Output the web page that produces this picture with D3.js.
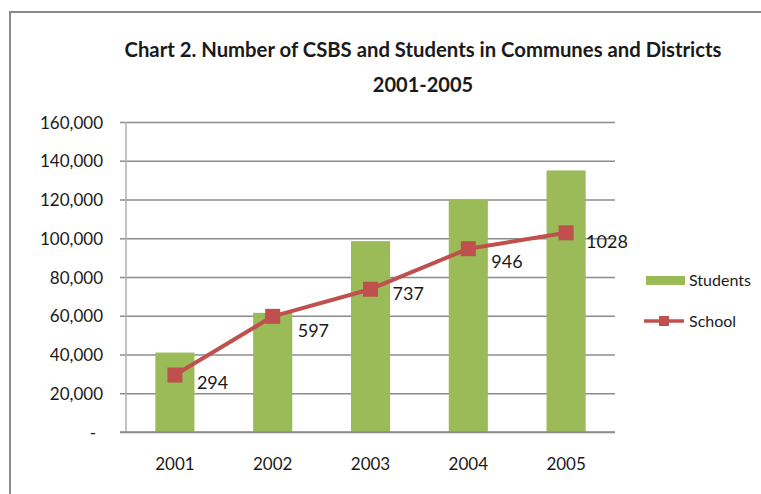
<!DOCTYPE html>
<html>
<head>
<meta charset="utf-8">
<script src="https://cdn.jsdelivr.net/npm/d3@7"></script>
<style>
  html, body { margin: 0; padding: 0; background: #fff; }
  svg { display: block; }
  text { font-family: Lato, "Open Sans", sans-serif; fill: #1a1a1a; }
</style>
</head>
<body>
<svg id="chart" width="761" height="494"></svg>
<script>
// ---- data ----
const years = ["2001", "2002", "2003", "2004", "2005"];
const students = [41000, 61500, 98500, 120000, 135000];
const schools = [294, 597, 737, 946, 1028];
const yTicks = [0, 20000, 40000, 60000, 80000, 100000, 120000, 140000, 160000];
const titleLines = ["Chart 2. Number of CSBS and Students in Communes and Districts", "2001-2005"];
const seriesNames = ["Students", "School"];

const svg = d3.select("#chart");
const W = 761, H = 494;
const margin = { left: 126, right: 146, top: 122, bottom: 62 };
const plotW = W - margin.left - margin.right;
const plotH = H - margin.top - margin.bottom;

const barColor = "#9BBB59";
const lineColor = "#C0504D";

// outer frame
svg.append("rect")
  .attr("x", 10).attr("y", 12)
  .attr("width", 800).attr("height", 600)
  .attr("fill", "none").attr("stroke", "#8a8a8a").attr("stroke-width", 2);

const g = svg.append("g").attr("transform", `translate(${margin.left},${margin.top})`);

const x = d3.scaleBand().domain(years).range([0, plotW]).paddingInner(0.6).paddingOuter(0.3);
const y = d3.scaleLinear().domain([0, 160000]).range([plotH, 0]);
const y2 = d3.scaleLinear().domain([0, 1600]).range([plotH, 0]);

// gridlines / y axis
const yAxis = d3.axisLeft(y).tickValues(yTicks).tickSize(-plotW).tickPadding(17)
  .tickFormat(d => d === 0 ? "-" : d3.format(",")(d));
const ya = g.append("g").call(yAxis);
ya.select(".domain").remove();
ya.selectAll(".tick line")
  .attr("x1", -6).attr("x2", plotW)
  .attr("stroke", "#8c8c8c").attr("stroke-width", 1.3);
ya.selectAll(".tick text")
  .style("font-size", "17px").attr("fill", "#1a1a1a")
  .attr("dy", "0.36em")
  .attr("x", d => d === 0 ? -30 : -23);

// y axis line
g.append("line").attr("x1", 0).attr("x2", 0).attr("y1", 0).attr("y2", plotH)
  .attr("stroke", "#b0b0b0").attr("stroke-width", 1.5);

// bars
g.selectAll("rect.bar").data(years).enter().append("rect")
  .attr("class", "bar")
  .attr("x", d => x(d))
  .attr("width", x.bandwidth())
  .attr("y", (d, i) => y(students[i]))
  .attr("height", (d, i) => plotH - y(students[i]))
  .attr("fill", barColor);

// x axis
const xa = g.append("g").attr("transform", `translate(0,${plotH})`)
  .call(d3.axisBottom(x).tickSize(0).tickPadding(26));
xa.select(".domain").attr("stroke", "#8c8c8c").attr("stroke-width", 1.5)
  .attr("d", `M-6,0H${plotW}`);
xa.selectAll(".tick text").style("font-size", "17px").attr("fill", "#1a1a1a");

// line
const cx = d => x(d) + x.bandwidth() / 2;
const line = d3.line().x((d, i) => cx(years[i])).y(d => y2(d));
g.append("path").datum(schools)
  .attr("d", line)
  .attr("fill", "none").attr("stroke", lineColor).attr("stroke-width", 4)
  .attr("stroke-linejoin", "round");

const ms = 15;
g.selectAll("rect.marker").data(schools).enter().append("rect")
  .attr("class", "marker")
  .attr("x", (d, i) => cx(years[i]) - ms / 2)
  .attr("y", d => y2(d) - ms / 2)
  .attr("width", ms).attr("height", ms)
  .attr("fill", lineColor);

// data labels (nudged as in the original layout)
const nudgeX = [22, 25, 22, 23, 20];
const nudgeY = [14, 21, 11, 19, 15];
g.selectAll("text.lbl").data(schools).enter().append("text")
  .attr("class", "lbl")
  .attr("x", (d, i) => cx(years[i]) + nudgeX[i])
  .attr("y", (d, i) => y2(d) + nudgeY[i])
  .style("font-size", "18px")
  .text(d => d);

// title
const title = svg.append("g");
title.append("text")
  .attr("x", 423).attr("y", 57)
  .attr("text-anchor", "middle")
  .style("font-size", "20px").style("font-weight", "bold")
  .attr("textLength", 597).attr("lengthAdjust", "spacingAndGlyphs")
  .text(titleLines[0]);
title.append("text")
  .attr("x", 423).attr("y", 92)
  .attr("text-anchor", "middle")
  .style("font-size", "20px").style("font-weight", "bold")
  .text(titleLines[1]);

// legend
const lg = svg.append("g");
lg.append("rect").attr("x", 646).attr("y", 276).attr("width", 39).attr("height", 9).attr("fill", barColor);
lg.append("text").attr("x", 689).attr("y", 286).style("font-size", "16px").text(seriesNames[0]);
lg.append("line").attr("x1", 644).attr("x2", 684).attr("y1", 321).attr("y2", 321)
  .attr("stroke", lineColor).attr("stroke-width", 3.5);
lg.append("rect").attr("x", 659).attr("y", 316).attr("width", 10).attr("height", 10).attr("fill", lineColor);
lg.append("text").attr("x", 689).attr("y", 327).style("font-size", "16px").text(seriesNames[1]);
</script>
</body>
</html>
